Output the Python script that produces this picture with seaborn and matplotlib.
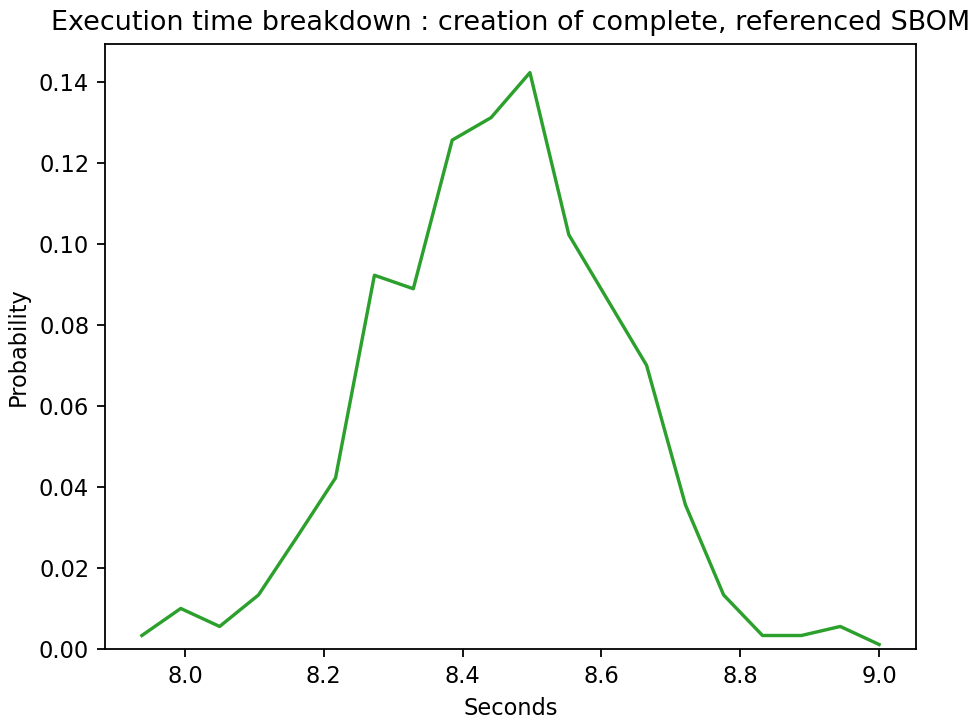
import matplotlib
matplotlib.use("Agg")
import matplotlib.pyplot as plt
import seaborn as sns
import pandas as pd

seconds = [7.938, 7.994, 8.050, 8.106, 8.162, 8.217, 8.273, 8.329, 8.385, 8.441,
           8.497, 8.553, 8.609, 8.665, 8.721, 8.776, 8.832, 8.888, 8.944, 9.000]
probability = [0.00333, 0.01000, 0.00556, 0.01333, 0.02778, 0.04222, 0.09222, 0.08889,
               0.12556, 0.13111, 0.14222, 0.10222, 0.08611, 0.07000, 0.03556, 0.01333,
               0.00333, 0.00333, 0.00556, 0.00111]

title = "Execution time breakdown : creation of complete, referenced SBOM"

df = pd.DataFrame({"Seconds": seconds, "Probability": probability})

DPI = 162
fig = plt.figure(figsize=(979 / DPI, 720 / DPI), dpi=DPI)
ax = fig.add_axes([105 / 979, 1 - 649 / 720, (916 - 105) / 979, (649 - 44) / 720])
sns.lineplot(data=df, x="Seconds", y="Probability", color="#2ca02c", linewidth=1.5, ax=ax)
ax.set_ylim(0, None)
ax.set_title(title, fontsize=12)
fig.savefig("out.png", dpi=DPI)
